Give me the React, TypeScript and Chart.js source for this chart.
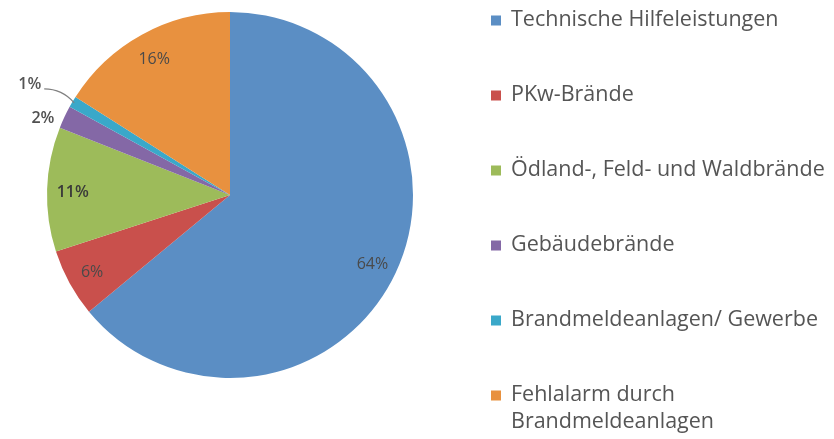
import React, { useEffect, useRef } from "react";
import { Chart, registerables } from "chart.js";

Chart.register(...registerables);

const categories = [
  "Technische Hilfeleistungen",
  "PKw-Brände",
  "Ödland-, Feld- und Waldbrände",
  "Gebäudebrände",
  "Brandmeldeanlagen/ Gewerbe",
  "Fehlalarm durch Brandmeldeanlagen",
];
const legendLines = [
  ["Technische Hilfeleistungen"],
  ["PKw-Brände"],
  ["Ödland-, Feld- und Waldbrände"],
  ["Gebäudebrände"],
  ["Brandmeldeanlagen/ Gewerbe"],
  ["Fehlalarm durch", "Brandmeldeanlagen"],
];
const values = [64, 6, 11, 2, 1, 16];
const labels = ["64%", "6%", "11%", "2%", "1%", "16%"];
const colors = ["#5b8ec4", "#c9504c", "#9dbb5a", "#8468a6", "#3aa8c9", "#e8913f"];

const FONT = "'Open Sans', sans-serif";

const labelPlugin = {
  id: "pieLabels",
  afterDatasetsDraw(chart: any) {
    const ctx = chart.ctx;
    const meta = chart.getDatasetMeta(0);
    ctx.save();
    ctx.textBaseline = "middle";
    const total = values.reduce((a, b) => a + b, 0);
    meta.data.forEach((arc: any, i: number) => {
      const { x, y, startAngle, endAngle, outerRadius } = arc.getProps(
        ["x", "y", "startAngle", "endAngle", "outerRadius"],
        true
      );
      const mid = (startAngle + endAngle) / 2;
      const frac = values[i] / total;
      if (frac >= 0.05) {
        const r = outerRadius * 0.86;
        ctx.font = i === 2 ? `600 16px ${FONT}` : `16px ${FONT}`;
        ctx.fillStyle = i === 2 ? "#3a3a3a" : "#4a4a4a";
        ctx.textAlign = "center";
        ctx.fillText(labels[i], x + Math.cos(mid) * r, y + Math.sin(mid) * r + 2);
      } else if (values[i] >= 2) {
        const ex = x + Math.cos(mid) * outerRadius;
        const ey = y + Math.sin(mid) * outerRadius;
        ctx.font = `600 16px ${FONT}`;
        ctx.fillStyle = "#505050";
        ctx.textAlign = "right";
        ctx.fillText(labels[i], ex - 10, ey + 1);
      } else {
        const ex = x + Math.cos(mid) * (outerRadius - 2);
        const ey = y + Math.sin(mid) * (outerRadius - 2);
        const lx = ex - 30;
        const ly = ey - 14;
        ctx.strokeStyle = "#808080";
        ctx.lineWidth = 1.2;
        ctx.beginPath();
        ctx.moveTo(ex, ey);
        ctx.quadraticCurveTo(ex - 12, ly, lx, ly);
        ctx.stroke();
        ctx.font = `600 16px ${FONT}`;
        ctx.fillStyle = "#555555";
        ctx.textAlign = "right";
        ctx.fillText(labels[i], lx - 3, ly - 4);
      }
    });
    ctx.restore();
  },
};

const legendPlugin = {
  id: "sideLegend",
  afterDraw(chart: any) {
    const ctx = chart.ctx;
    ctx.save();
    ctx.font = `21.5px ${FONT}`;
    ctx.textBaseline = "middle";
    ctx.textAlign = "left";
    const x0 = 491;
    const y0 = 20;
    const step = 75;
    legendLines.forEach((lines, i) => {
      const y = y0 + i * step;
      ctx.fillStyle = colors[i];
      ctx.fillRect(x0, y - 4.5, 10, 10);
      ctx.fillStyle = "#555555";
      lines.forEach((t, j) => {
        ctx.fillText(t, x0 + 20, y + j * 27);
      });
    });
    ctx.restore();
  },
};

export default function App() {
  const ref = useRef<HTMLCanvasElement>(null);
  useEffect(() => {
    document.body.style.margin = "0";
    const chart = new Chart(ref.current!, {
      type: "pie",
      data: {
        labels: categories,
        datasets: [
          {
            data: values,
            backgroundColor: colors,
            borderWidth: 0,
          },
        ],
      },
      options: {
        animation: false,
        responsive: false,
        maintainAspectRatio: false,
        layout: { padding: { left: 47, top: 12, right: 421, bottom: 61 } },
        plugins: { legend: { display: false }, tooltip: { enabled: false } },
      },
      plugins: [labelPlugin, legendPlugin],
    });
    return () => chart.destroy();
  }, []);
  return (
    <div style={{ width: 834, height: 439, background: "#fff" }}>
      <canvas ref={ref} width={834} height={439} style={{ display: "block" }} />
    </div>
  );
}
